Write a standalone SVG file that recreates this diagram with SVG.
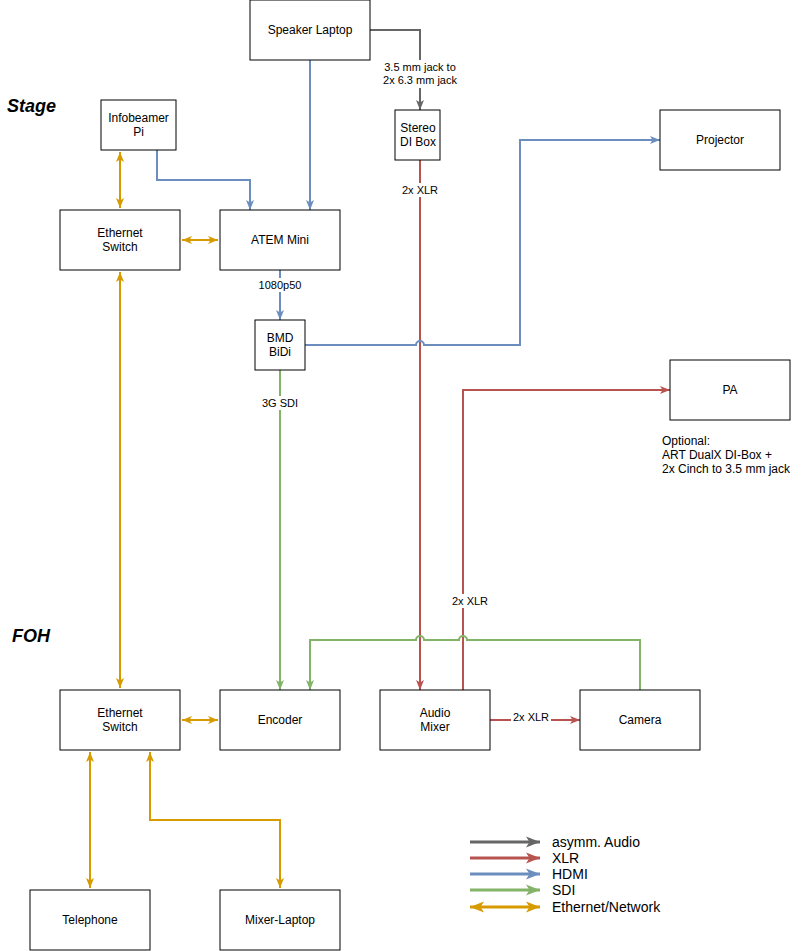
<svg xmlns="http://www.w3.org/2000/svg" width="801" height="951" viewBox="0 0 801 951">
<style>
.n rect{fill:#fff;stroke:#000;stroke-width:1}
text{font-family:"Liberation Sans",Arial,sans-serif;font-size:12px;fill:#000}
.c{text-anchor:middle}
.l{font-size:11px;text-anchor:middle}
.e{fill:none;stroke-width:2}
.gr{stroke:#666666}
.rd{stroke:#b85450}
.bl{stroke:#6c8ebf}
.gn{stroke:#82b366}
.or{stroke:#d79b00}
.h{font-size:18px;font-weight:bold;font-style:italic}
.lg{font-size:14px}
.le{fill:none;stroke-width:3}
</style>
<defs>
<marker id="ag" viewBox="0 0 10 10" refX="10" refY="5" markerWidth="10" markerHeight="10" markerUnits="userSpaceOnUse" orient="auto-start-reverse"><path d="M0,1 L10,5 L0,9 L2.5,5 Z" fill="#666666"/></marker>
<marker id="ar" viewBox="0 0 10 10" refX="10" refY="5" markerWidth="10" markerHeight="10" markerUnits="userSpaceOnUse" orient="auto-start-reverse"><path d="M0,1 L10,5 L0,9 L2.5,5 Z" fill="#b85450"/></marker>
<marker id="ab" viewBox="0 0 10 10" refX="10" refY="5" markerWidth="10" markerHeight="10" markerUnits="userSpaceOnUse" orient="auto-start-reverse"><path d="M0,1 L10,5 L0,9 L2.5,5 Z" fill="#6c8ebf"/></marker>
<marker id="an" viewBox="0 0 10 10" refX="10" refY="5" markerWidth="10" markerHeight="10" markerUnits="userSpaceOnUse" orient="auto-start-reverse"><path d="M0,1 L10,5 L0,9 L2.5,5 Z" fill="#82b366"/></marker>
<marker id="ao" viewBox="0 0 10 10" refX="10" refY="5" markerWidth="10" markerHeight="10" markerUnits="userSpaceOnUse" orient="auto-start-reverse"><path d="M0,1 L10,5 L0,9 L2.5,5 Z" fill="#d79b00"/></marker>
<marker id="lg" viewBox="0 0 10 10" refX="10" refY="5" markerWidth="14" markerHeight="14" markerUnits="userSpaceOnUse" orient="auto-start-reverse"><path d="M0,1 L10,5 L0,9 L2.5,5 Z" fill="#666666"/></marker>
<marker id="lr" viewBox="0 0 10 10" refX="10" refY="5" markerWidth="14" markerHeight="14" markerUnits="userSpaceOnUse" orient="auto-start-reverse"><path d="M0,1 L10,5 L0,9 L2.5,5 Z" fill="#b85450"/></marker>
<marker id="lb" viewBox="0 0 10 10" refX="10" refY="5" markerWidth="14" markerHeight="14" markerUnits="userSpaceOnUse" orient="auto-start-reverse"><path d="M0,1 L10,5 L0,9 L2.5,5 Z" fill="#6c8ebf"/></marker>
<marker id="ln" viewBox="0 0 10 10" refX="10" refY="5" markerWidth="14" markerHeight="14" markerUnits="userSpaceOnUse" orient="auto-start-reverse"><path d="M0,1 L10,5 L0,9 L2.5,5 Z" fill="#82b366"/></marker>
<marker id="lo" viewBox="0 0 10 10" refX="10" refY="5" markerWidth="14" markerHeight="14" markerUnits="userSpaceOnUse" orient="auto-start-reverse"><path d="M0,1 L10,5 L0,9 L2.5,5 Z" fill="#d79b00"/></marker>
</defs>
<rect width="801" height="951" fill="#fff"/>
<text class="h" x="7" y="112">Stage</text>
<text class="h" x="12" y="642">FOH</text>

<g id="connectors">
<path class="e gr" d="M370,30 H420 V110" marker-end="url(#ag)"/>
<path class="e bl" d="M310,60 V210" marker-end="url(#ab)"/>
<path class="e bl" d="M157,150 V180 H250 V210" marker-end="url(#ab)"/>
<path class="e or" d="M120,152 V208" marker-start="url(#ao)" marker-end="url(#ao)"/>
<path class="e or" d="M182,240 H218" marker-start="url(#ao)" marker-end="url(#ao)"/>
<path class="e bl" d="M280,270 V320" marker-end="url(#ab)"/>
<path class="e rd" d="M420,160 V690" marker-end="url(#ar)"/>
<path class="e bl" d="M305,345 H416 A4,4 0 0 1 424,345 H520 V140 H660" marker-end="url(#ab)"/>
<path class="e rd" d="M463,690 V390 H670" marker-end="url(#ar)"/>
<path class="e gn" d="M280,370 V690" marker-end="url(#an)"/>
<path class="e gn" d="M640,690 V640 H467 A4,4 0 0 0 459,640 H424 A4,4 0 0 0 416,640 H310 V690" marker-end="url(#an)"/>
<path class="e rd" d="M490,720 H580" marker-end="url(#ar)"/>
<path class="e or" d="M120,272 V688" marker-start="url(#ao)" marker-end="url(#ao)"/>
<path class="e or" d="M182,720 H218" marker-start="url(#ao)" marker-end="url(#ao)"/>
<path class="e or" d="M90,752 V888" marker-start="url(#ao)" marker-end="url(#ao)"/>
<path class="e or" d="M150,752 V820 H280 V888" marker-start="url(#ao)" marker-end="url(#ao)"/>

<rect x="380" y="60" width="80" height="28" fill="#fff"/>
<text class="l" x="420" y="71">3.5 mm jack to</text>
<text class="l" x="420" y="84">2x 6.3 mm jack</text>
<rect x="256" y="278" width="48" height="14" fill="#fff"/>
<text class="l" x="280" y="289">1080p50</text>
<rect x="256" y="396" width="48" height="14" fill="#fff"/>
<text class="l" x="280" y="407">3G SDI</text>
<rect x="400" y="183" width="40" height="14" fill="#fff"/>
<text class="l" x="420" y="194">2x XLR</text>
<rect x="450" y="594" width="40" height="14" fill="#fff"/>
<text class="l" x="470" y="605">2x XLR</text>
<rect x="511" y="710" width="40" height="14" fill="#fff"/>
<text class="l" x="531" y="721">2x XLR</text>
</g>

<g id="speaker-laptop" class="n"><rect x="250" y="0" width="120" height="60"/><text class="c" x="310" y="34">Speaker Laptop</text></g>
<g id="stereo-di" class="n"><rect x="395" y="110" width="45" height="50"/><text class="c" x="418" y="132">Stereo</text><text class="c" x="418" y="146">DI Box</text></g>
<g id="infobeamer" class="n"><rect x="101" y="100" width="75" height="50"/><text class="c" x="138.5" y="122">Infobeamer</text><text class="c" x="138.5" y="136">Pi</text></g>
<g id="eth-stage" class="n"><rect x="60" y="210" width="120" height="60"/><text class="c" x="120" y="237">Ethernet</text><text class="c" x="120" y="251">Switch</text></g>
<g id="atem" class="n"><rect x="220" y="210" width="120" height="60"/><text class="c" x="280" y="244">ATEM Mini</text></g>
<g id="bidi" class="n"><rect x="255" y="320" width="50" height="50"/><text class="c" x="280" y="342">BMD</text><text class="c" x="280" y="356">BiDi</text></g>
<g id="projector" class="n"><rect x="660" y="110" width="120" height="60"/><text class="c" x="720" y="144">Projector</text></g>
<g id="pa" class="n"><rect x="670" y="360" width="120" height="60"/><text class="c" x="730" y="394">PA</text></g>
<g id="pa-note"><text x="662" y="445">Optional:</text><text x="662" y="459">ART DualX DI-Box +</text><text x="662" y="473">2x Cinch to 3.5 mm jack</text></g>
<g id="eth-foh" class="n"><rect x="60" y="690" width="120" height="60"/><text class="c" x="120" y="717">Ethernet</text><text class="c" x="120" y="731">Switch</text></g>
<g id="encoder" class="n"><rect x="220" y="690" width="120" height="60"/><text class="c" x="280" y="724">Encoder</text></g>
<g id="mixer" class="n"><rect x="380" y="690" width="110" height="60"/><text class="c" x="435" y="717">Audio</text><text class="c" x="435" y="731">Mixer</text></g>
<g id="camera" class="n"><rect x="580" y="690" width="120" height="60"/><text class="c" x="640" y="724">Camera</text></g>
<g id="telephone" class="n"><rect x="30" y="890" width="120" height="60"/><text class="c" x="90" y="924">Telephone</text></g>
<g id="mixer-laptop" class="n"><rect x="220" y="890" width="120" height="60"/><text class="c" x="280" y="924">Mixer-Laptop</text></g>

<g id="legend">
<path class="le gr" d="M470,842 H540" marker-end="url(#lg)"/>
<path class="le rd" d="M470,858 H540" marker-end="url(#lr)"/>
<path class="le bl" d="M470,874 H540" marker-end="url(#lb)"/>
<path class="le gn" d="M470,890 H540" marker-end="url(#ln)"/>
<path class="le or" d="M470,907 H540" marker-start="url(#lo)" marker-end="url(#lo)"/>
<text class="lg" x="552" y="847">asymm. Audio</text>
<text class="lg" x="552" y="863">XLR</text>
<text class="lg" x="552" y="879">HDMI</text>
<text class="lg" x="552" y="895">SDI</text>
<text class="lg" x="552" y="912">Ethernet/Network</text>
</g>
</svg>
